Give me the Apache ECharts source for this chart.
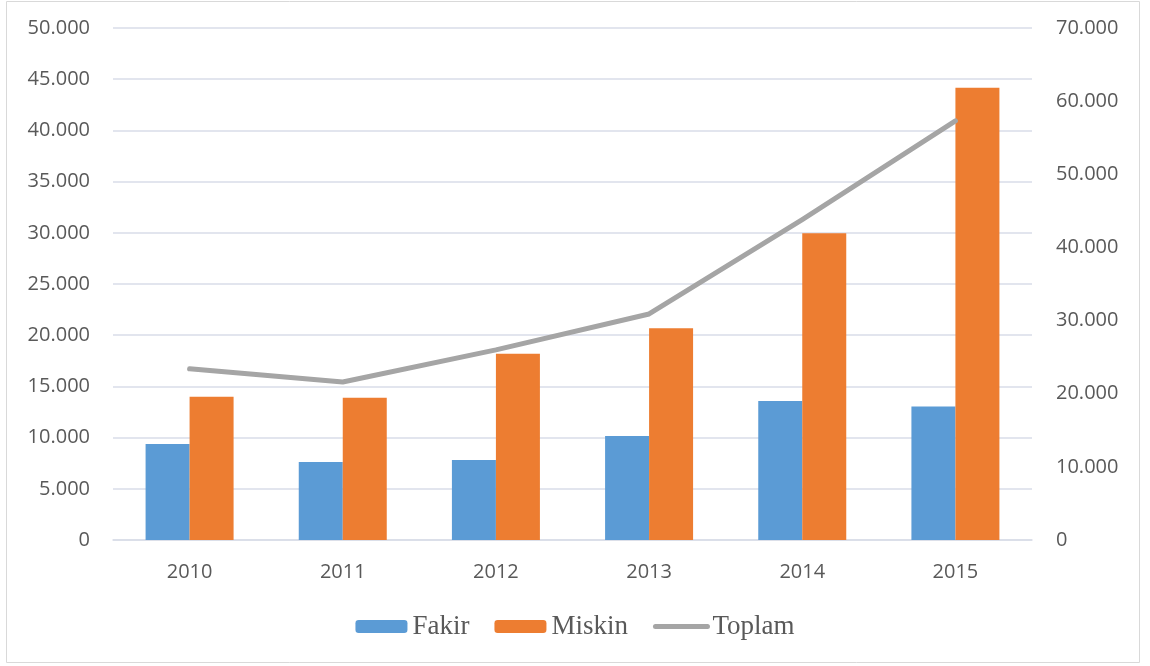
<!DOCTYPE html>
<html>
<head>
<meta charset="utf-8">
<script src="https://cdn.jsdelivr.net/npm/echarts@6/dist/echarts.min.js"></script>
<style>
  html, body { margin: 0; padding: 0; background: #fff; }
  #chart { width: 1150px; height: 666px; }
</style>
</head>
<body>
<div id="chart"></div>
<script>
// values
const years = ['2010', '2011', '2012', '2013', '2014', '2015']
const fakir = [9370, 7610, 7810, 10150, 13570, 13040]
const miskin = [13990, 13890, 18180, 20690, 29960, 44170]
const toplam = [23400, 21600, 26000, 30900, 43800, 57300]

const chart = echarts.init(document.getElementById('chart'))

// thousands separator is a dot in the original
function dotFormat(v) {
  return v.toLocaleString('en-US').replace(/,/g, '.')
}

const labelFont = '"Open Sans", "Noto Sans", sans-serif'
const gridColor = '#d9dde8'

chart.setOption({
  animation: false,
  graphic: [
    {
      type: 'rect',
      shape: { x: 6.5, y: 1.5, width: 1133, height: 661 },
      style: { fill: 'none', stroke: '#d9d9d9', lineWidth: 1 }
    }
  ],
  grid: { left: 113, right: 118, top: 28, bottom: 126 },
  legend: {
    bottom: 21,
    left: 'center',
    itemWidth: 52,
    itemHeight: 13,
    itemGap: 25,
    textStyle: {
      fontFamily: '"Liberation Serif", serif',
      fontSize: 27,
      color: '#595959'
    },
    // hide the circle marker on the line legend icon, keep a thick line
    data: [
      'Fakir',
      'Miskin',
      {
        name: 'Toplam',
        itemStyle: { opacity: 0 },
        lineStyle: { width: 5, cap: 'round', color: '#a5a5a5' }
      }
    ]
  },
  xAxis: {
    type: 'category',
    data: years,
    axisTick: { show: false },
    axisLine: { lineStyle: { color: gridColor, width: 1.5 } },
    axisLabel: { color: '#595959', fontSize: 20, fontFamily: labelFont, margin: 22 }
  },
  yAxis: [
    {
      type: 'value',
      min: 0,
      max: 50000,
      interval: 5000,
      axisLabel: { color: '#595959', fontSize: 20, fontFamily: labelFont, margin: 23, formatter: dotFormat },
      splitLine: { lineStyle: { color: gridColor, width: 1.5 } }
    },
    {
      type: 'value',
      min: 0,
      max: 70000,
      interval: 10000,
      axisLabel: { color: '#595959', fontSize: 20, fontFamily: labelFont, margin: 24, formatter: dotFormat },
      splitLine: { show: false }
    }
  ],
  series: [
    {
      name: 'Fakir',
      type: 'bar',
      data: fakir,
      barWidth: 44,
      barGap: '0%',
      itemStyle: { color: '#5b9bd5' }
    },
    {
      name: 'Miskin',
      type: 'bar',
      data: miskin,
      barWidth: 44,
      itemStyle: { color: '#ed7d31' }
    },
    {
      name: 'Toplam',
      type: 'line',
      yAxisIndex: 1,
      data: toplam,
      symbol: 'none',
      lineStyle: { color: '#a5a5a5', width: 5, cap: 'round', join: 'round' },
      itemStyle: { color: '#a5a5a5' }
    }
  ]
})
</script>
</body>
</html>
